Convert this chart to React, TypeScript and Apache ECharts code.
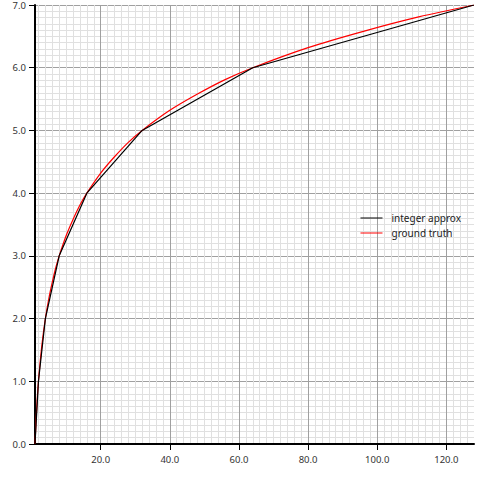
import React, { useEffect, useRef } from "react";
import * as echarts from "echarts";

const approxX = [1, 2, 4, 8, 16, 32, 64, 128];
const approxY = [0, 1, 2, 3, 4, 5, 6, 7];

const truthX = [1, 1.5, 2, 3, 4, 5, 6, 7, 8, 10, 12, 14, 16, 20, 24, 28, 32, 40, 48, 56, 64, 80, 96, 112, 128];
const truthY = [0, 0.58, 1, 1.58, 2, 2.32, 2.58, 2.81, 3, 3.32, 3.58, 3.81, 4, 4.32, 4.58, 4.81, 5, 5.32, 5.58, 5.81, 6, 6.32, 6.58, 6.81, 7];

const seriesNames = ["integer approx", "ground truth"];
const seriesColors = ["#000000", "#ff0000"];

const majorXTicks = [20, 40, 60, 80, 100, 120];
const minorXStep = 2;
const minorXTicks = Array.from({ length: 63 }, (_, i) => (i + 1) * minorXStep);

export default function App() {
  const ref = useRef<HTMLDivElement>(null);
  useEffect(() => {
    if (!ref.current) return;
    const chart = echarts.init(ref.current, undefined, { renderer: "svg" });
    const font = "Noto Sans";
    chart.setOption({
      animation: false,
      backgroundColor: "#ffffff",
      textStyle: { fontFamily: font },
      grid: { left: 35, right: 6, top: 5, bottom: 36, containLabel: false },
      legend: {
        right: 14,
        top: 207,
        orient: "vertical",
        itemWidth: 22,
        itemHeight: 10,
        itemGap: 3,
        icon: "path://M0,4.5 L22,4.5 L22,5.5 L0,5.5 Z",
        textStyle: { fontFamily: font, fontSize: 10, lineHeight: 12, color: "#222", padding: [0, 0, 0, 4] },
        data: seriesNames,
      },
      xAxis: [
        {
          type: "value",
          min: 1,
          max: 128,
          axisLine: { show: true, onZero: false, lineStyle: { color: "#000", width: 2 } },
          axisTick: { show: true, length: 6, customValues: majorXTicks, lineStyle: { color: "#000" } },
          axisLabel: {
            customValues: majorXTicks,
            color: "#333",
            fontSize: 9.5,
            margin: 10,
            fontFamily: font,
            formatter: (v: number) => v.toFixed(1),
          },
          splitLine: { show: true, lineStyle: { color: "#a0a0a0", width: 1 } },
          z: 3,
        },
        {
          type: "value",
          min: 1,
          max: 128,
          position: "bottom",
          axisLine: { show: false },
          axisTick: { show: false, customValues: minorXTicks },
          axisLabel: { show: false, customValues: minorXTicks },
          splitLine: { show: true, lineStyle: { color: "#e0e0e0", width: 1 } },
          z: 1,
        },
      ],
      yAxis: {
        type: "value",
        min: 0,
        max: 7,
        interval: 1,
        axisLine: { show: true, onZero: false, lineStyle: { color: "#000", width: 2 } },
        axisTick: { show: true, length: 6, lineStyle: { color: "#000" } },
        axisLabel: {
          color: "#333",
          fontSize: 9.5,
          margin: 9,
          fontFamily: font,
          formatter: (v: number) => v.toFixed(1),
        },
        splitLine: { show: true, lineStyle: { color: "#a0a0a0", width: 1 } },
        minorTick: { show: false, splitNumber: 10 },
        minorSplitLine: { show: true, lineStyle: { color: "#e0e0e0", width: 1 } },
      },
      series: [
        {
          name: seriesNames[0],
          type: "line",
          xAxisIndex: 0,
          data: approxX.map((x, i) => [x, approxY[i]]),
          showSymbol: false,
          symbol: "none",
          lineStyle: { color: seriesColors[0], width: 1.2 },
          itemStyle: { color: seriesColors[0] },
          z: 5,
        },
        {
          name: seriesNames[1],
          type: "line",
          xAxisIndex: 0,
          smooth: 0.3,
          data: truthX.map((x, i) => [x, truthY[i]]),
          showSymbol: false,
          symbol: "none",
          lineStyle: { color: seriesColors[1], width: 1.2 },
          itemStyle: { color: seriesColors[1] },
          z: 4,
        },
      ],
    });
    return () => chart.dispose();
  }, []);
  return (
    <div
      ref={ref}
      style={{ position: "fixed", left: 0, top: 0, width: 480, height: 480 }}
    />
  );
}
